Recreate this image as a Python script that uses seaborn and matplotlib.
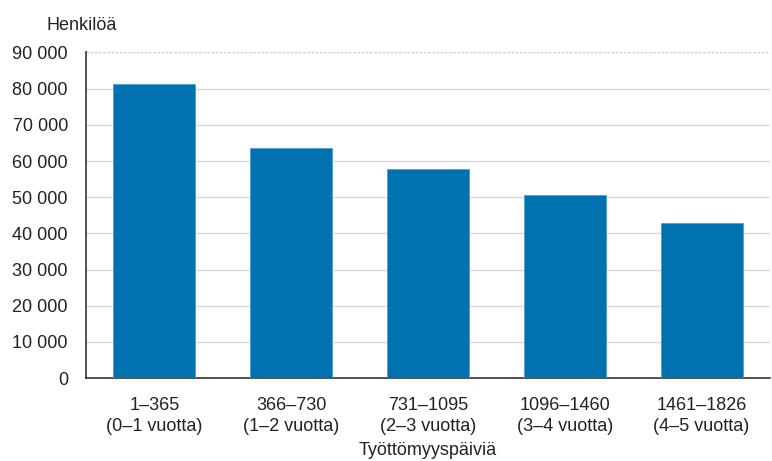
import matplotlib
matplotlib.use('Agg')
import matplotlib.pyplot as plt
import seaborn as sns
import pandas as pd
from matplotlib.ticker import FuncFormatter

# data
categories = ['1–365\n(0–1 vuotta)', '366–730\n(1–2 vuotta)', '731–1095\n(2–3 vuotta)',
              '1096–1460\n(3–4 vuotta)', '1461–1826\n(4–5 vuotta)']
persons = [81200, 63500, 57800, 50700, 42800]
y_ticks = [0, 10000, 20000, 30000, 40000, 50000, 60000, 70000, 80000, 90000]

df = pd.DataFrame({'cat': categories, 'val': persons})

sns.set_theme(style='white')
plt.rcParams['font.family'] = ['Liberation Sans', 'DejaVu Sans']
FS = 13

fig = plt.figure(figsize=(7.72, 4.61), dpi=100)
ax = fig.add_axes([86 / 772, 1 - 378 / 461, 684 / 772, (378 - 52.5) / 461])

sns.barplot(data=df, x='cat', y='val', color='#0072b0', width=0.6, saturation=1,
            edgecolor='#4a9fd0', linewidth=0.6, ax=ax, zorder=3)

ax.set_ylim(0, 90000)
ax.set_xlim(-0.5, 4.5)
ax.set_yticks(y_ticks)
ax.yaxis.set_major_formatter(FuncFormatter(lambda v, p: f'{int(v):,}'.replace(',', ' ')))
ax.tick_params(axis='both', length=0, labelsize=FS, colors='#222222')
ax.tick_params(axis='x', pad=14)
ax.tick_params(axis='y', pad=13)
for lab in ax.get_xticklabels():
    lab.set_linespacing(1.25)

for t in y_ticks[1:-1]:
    ax.axhline(t, color='#d9d9d9', linewidth=1, zorder=1)
ax.axhline(90000, color='#cccccc', linewidth=1, linestyle=(0, (2, 1)), zorder=1)

for s in ['top', 'right']:
    ax.spines[s].set_visible(False)
for s in ['left', 'bottom']:
    ax.spines[s].set_color('#333333')
    ax.spines[s].set_linewidth(1.2)

ax.set_ylabel('')
ax.set_xlabel('Työttömyyspäiviä', fontsize=FS, color='#222222', labelpad=5)
fig.text(47 / 772, 1 - 25 / 461, 'Henkilöä', fontsize=FS, color='#222222', va='center', ha='left')

fig.savefig('out.png', dpi=100)
